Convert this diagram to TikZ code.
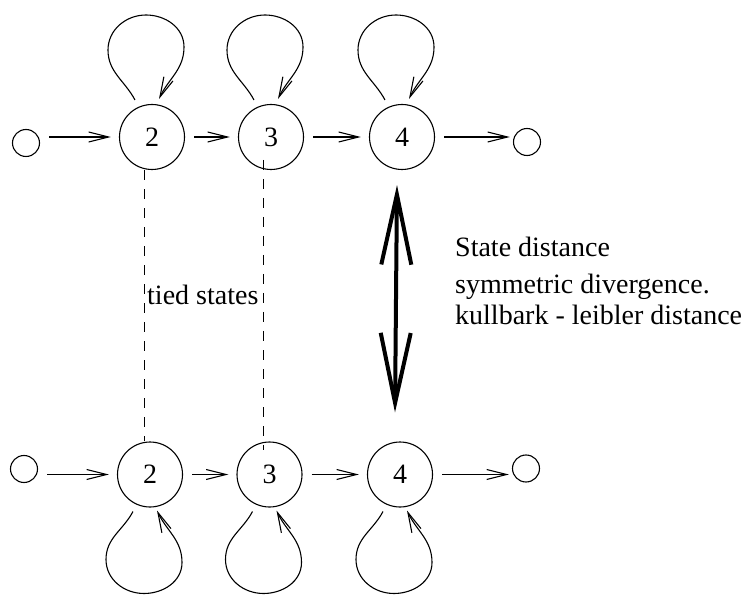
\documentclass[tikz,border=0pt]{standalone}
\usepackage{fontspec}
\setmainfont{Liberation Serif}
\usetikzlibrary{arrows.meta}

\begin{document}
\begin{tikzpicture}[x=1pt, y=1pt, >={Straight Barb[length=20pt,width=10pt]},
    state/.style={draw, circle, line width=1.1pt, minimum size=65pt, inner sep=0pt,
        font=\fontsize{28}{32}\selectfont},
    term/.style={draw, circle, line width=1.1pt, minimum size=27pt, inner sep=0pt},
    flow/.style={->, line width=1.1pt, shorten <=9pt, shorten >=8pt},
    self/.style={->, line width=1.1pt},
    tie/.style={dash pattern=on 10pt off 9pt, line width=1pt},
    note/.style={anchor=base west, inner sep=0pt, font=\fontsize{28}{32}\selectfont}]
    \useasboundingbox (0,0) rectangle (752,595);
    % Upper model
    \node[term]  (a0) at (26,452) {};
    \node[state] (a2) at (152,458) {2};
    \node[state] (a3) at (271,458) {3};
    \node[state] (a4) at (402,458) {4};
    \node[term]  (a5) at (527,453) {};
    \draw[flow] (a0.east |- a2.west) -- (a2.west);
    \draw[flow] (a2) -- (a3);
    \draw[flow] (a3) -- (a4);
    \draw[flow, shorten >=3pt] (a4.east) -- (a5.west |- a4.east);
    % Self loops above
    \foreach \n in {a2,a3,a4}
        \draw[self] ([shift={(-17,37)}]\n.center) to[out=118,in=270] ([shift={(-44,87)}]\n.center)
            to[out=90,in=180] ([shift={(-6,122)}]\n.center) to[out=0,in=90] ([shift={(32,90)}]\n.center)
            to[out=270,in=65] ([shift={(7,38)}]\n.center);
    % Lower model
    \node[term]  (b0) at (24,126) {};
    \node[state] (b2) at (150,120.5) {2};
    \node[state] (b3) at (269.5,120.5) {3};
    \node[state] (b4) at (400,120.5) {4};
    \node[term]  (b5) at (526,126.5) {};
    \draw[flow] (b0.east |- b2.west) -- (b2.west);
    \draw[flow] (b2) -- (b3);
    \draw[flow] (b3) -- (b4);
    \draw[flow, shorten >=3pt] (b4.east) -- (b5.west |- b4.east);
    % Self loops below
    \foreach \n in {b2,b3,b4}
        \draw[self] ([shift={(-17,-37)}]\n.center) to[out=-118,in=90] ([shift={(-44,-85)}]\n.center)
            to[out=270,in=180] ([shift={(-6,-119)}]\n.center) to[out=0,in=270] ([shift={(32,-88)}]\n.center)
            to[out=90,in=-65] ([shift={(7,-36)}]\n.center);
    % Tied states
    \draw[tie] ([xshift=-8pt]a2.south) -- ([xshift=-6pt]b2.north);
    \draw[tie] ([shift={(-8,-23)}]a3.center) -- ([shift={(-6.5,24.5)}]b3.center);
    \node[note] (tied) at (147,290) {tied states};
    % State distance
    \draw[<->, line width=4pt, >={Straight Barb[length=70pt,width=30pt]}]
        ([xshift=-5pt,yshift=-15pt]a4.south) -- ([xshift=-5pt,yshift=29pt]b4.north);
    \node[note] (dist1) at (455,338) {State distance};
    \node[note] (dist2) at (455,301) {symmetric divergence.};
    \node[note] (dist3) at (455,270) {kullbark - leibler distance};
\end{tikzpicture}
\end{document}
